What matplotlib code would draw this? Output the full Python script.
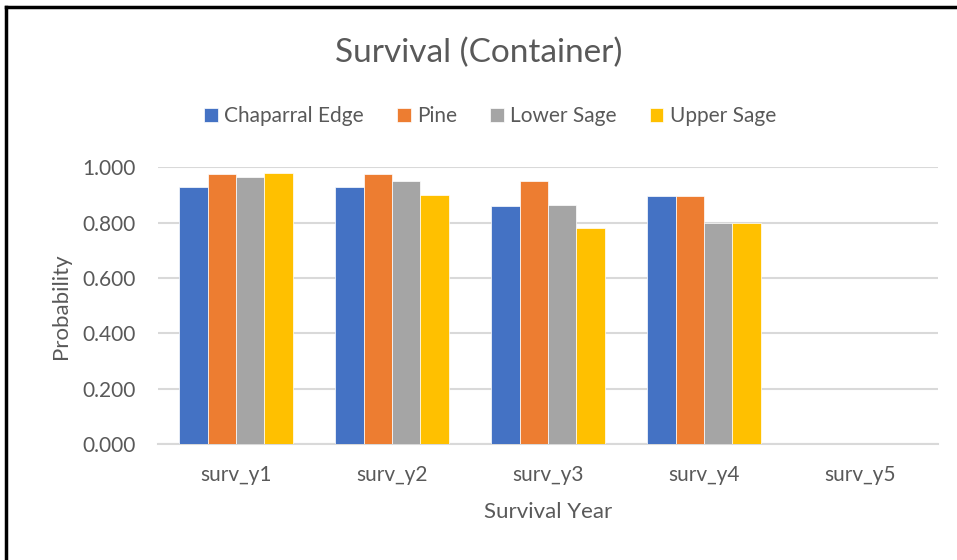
import numpy as np
import matplotlib.pyplot as plt

categories = ['surv_y1', 'surv_y2', 'surv_y3', 'surv_y4', 'surv_y5']
series = ['Chaparral Edge', 'Pine', 'Lower Sage', 'Upper Sage']
chaparral_edge = [0.930, 0.930, 0.862, 0.898, np.nan]
pine = [0.975, 0.975, 0.952, 0.898, np.nan]
lower_sage = [0.966, 0.949, 0.864, 0.800, np.nan]
upper_sage = [0.979, 0.900, 0.781, 0.800, np.nan]
colors = ['#4472C4', '#ED7D31', '#A5A5A5', '#FFC000']
y_ticks = [0.0, 0.2, 0.4, 0.6, 0.8, 1.0]

plt.rcParams['font.family'] = ['Lato', 'DejaVu Sans']
text_color = '#595959'

fig = plt.figure(figsize=(9.57, 5.6), dpi=100)
ax = fig.add_axes([0.1651, 0.2066, 0.815, 0.4947])

x = np.arange(len(categories))
width = 0.182
values = [chaparral_edge, pine, lower_sage, upper_sage]
for i, (name, vals) in enumerate(zip(series, values)):
    ax.bar(x + (i - 1.5) * width, vals, width, color=colors[i], label=name,
           edgecolor='white', linewidth=0.5, zorder=3)

ax.set_xlim(-0.5, len(categories) - 0.5)
ax.set_ylim(0, 1.0)
ax.set_yticks(y_ticks)
ax.set_yticklabels(['{:.3f}'.format(v) for v in y_ticks])
ax.set_xticks(x)
ax.set_xticklabels(categories)
ax.grid(axis='y', color='#d9d9d9', linewidth=1.5, zorder=0)
ax.tick_params(length=0, labelsize=15, colors=text_color)
ax.tick_params(axis='x', pad=15)
ax.tick_params(axis='y', pad=16)
for side in ['top', 'right', 'left']:
    ax.spines[side].set_visible(False)
ax.spines['bottom'].set_color('#d9d9d9')
ax.spines['bottom'].set_linewidth(1.5)

ax.set_xlabel('Survival Year', fontsize=16, color=text_color, labelpad=12)
ax.set_ylabel('Probability', fontsize=16, color=text_color, labelpad=8)

fig.text(0.5, 0.905, 'Survival (Container)', ha='center', va='center',
         fontsize=24, color=text_color)
leg = fig.legend(loc='center', bbox_to_anchor=(0.512, 0.792), ncol=4, frameon=False,
                 fontsize=15, handlelength=0.65, handleheight=0.65, handletextpad=0.3,
                 columnspacing=1.6, labelcolor=text_color)

# black frame on top and left edges
fig.add_artist(plt.Line2D([0.0063, 1.0], [0.9875, 0.9875], color='black', linewidth=2.5,
                          transform=fig.transFigure))
fig.add_artist(plt.Line2D([0.0063, 0.0063], [0.0, 0.9875], color='black', linewidth=2.5,
                          transform=fig.transFigure))

fig.savefig('out.png', dpi=100)
